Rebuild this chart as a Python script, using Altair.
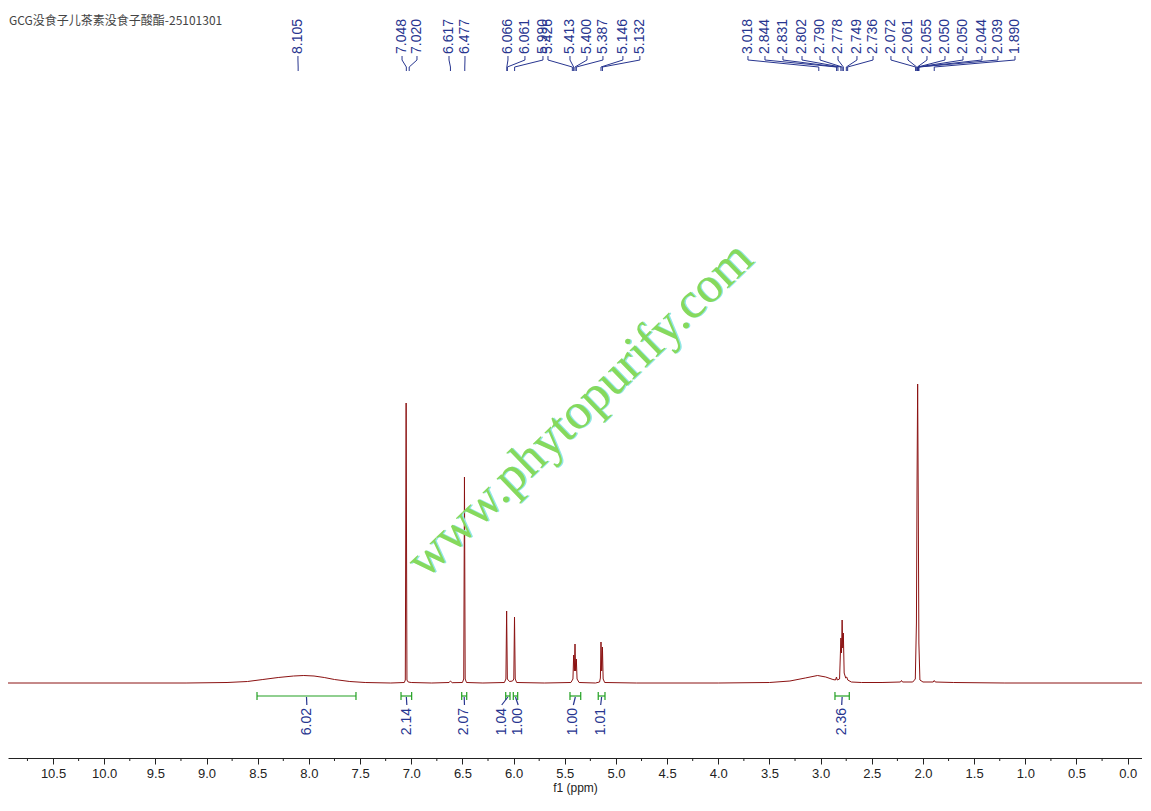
import altair as alt
import pandas as pd

title_text = "GCG没食子儿茶素没食子酸酯-25101301"

# ---- spectrum (ppm, intensity relative to baseline) ----
spec_ppm = [10.94, 9.20, 8.80, 8.60, 8.45, 8.30, 8.15, 8.05, 7.95, 7.85, 7.75, 7.60, 7.45, 7.20,
            7.068, 7.058, 7.050, 7.042, 7.030, 7.00, 6.80, 6.63, 6.617, 6.60, 6.50, 6.487, 6.480, 6.473,
            6.46, 6.30, 6.09, 6.075, 6.068, 6.061, 6.040, 6.010, 5.998, 5.991, 5.984, 5.97, 5.70,
            5.44, 5.420, 5.413, 5.406, 5.400, 5.394, 5.387, 5.380, 5.36, 5.20, 5.160, 5.152, 5.146,
            5.139, 5.132, 5.125, 5.11, 4.80, 4.00, 3.50, 3.30, 3.15, 3.03, 2.95, 2.88, 2.855, 2.845,
            2.838, 2.815, 2.802, 2.796, 2.790, 2.784, 2.778, 2.770, 2.755, 2.745, 2.735, 2.70, 2.60,
            2.40, 2.22, 2.21, 2.20, 2.10, 2.075, 2.064, 2.058, 2.052, 2.046, 2.040, 2.030, 2.00, 1.90,
            1.89, 1.88, 1.70, 1.20, -0.14]
spec_int = [0, 0, 0.5, 1.5, 3.5, 5.5, 7, 7.5, 7, 5.5, 3.5, 1.5, 0.5, 0,
            0.5, 3, 280, 3, 1, 0.5, 0, 0.5, 2, 0.3, 0.5, 4, 206, 4,
            0.5, 0, 0.5, 4, 72, 4, 1.5, 2, 4, 66, 4, 0.5, 0,
            0.5, 4, 28, 12, 39, 12, 24, 4, 0.5, 0, 1, 5, 41,
            12, 36, 4, 0.5, 0, 0, 0.5, 2, 5, 7.5, 6, 3.5, 3, 6,
            3, 4, 45, 30, 63, 35, 50, 10, 5, 6, 3, 1, 0.5,
            0.5, 1, 2.5, 1, 1, 4, 60, 200, 299, 180, 40, 3, 1, 1,
            2.5, 1, 0.5, 0, 0]

# ---- peak labels ----
peak_labels = ["8.105", "7.048", "7.020", "6.617", "6.477", "6.066", "6.061", "5.990", "5.426",
               "5.413", "5.400", "5.387", "5.146", "5.132", "3.018", "2.844", "2.831", "2.802",
               "2.790", "2.778", "2.749", "2.736", "2.072", "2.061", "2.055", "2.050", "2.050",
               "2.044", "2.039", "1.890"]
# where each label is drawn (ppm units, spread out as in the picture)
peak_label_pos = [8.107, 7.090, 6.944, 6.631, 6.475, 6.055, 5.889, 5.713, 5.664,
                  5.449, 5.283, 5.127, 4.932, 4.766, 3.710, 3.544, 3.368, 3.182,
                  3.006, 2.830, 2.645, 2.488, 2.313, 2.147, 1.961, 1.785, 1.609,
                  1.424, 1.268, 1.101]

# ---- integrals ----
int_start = [8.507, 7.100, 6.507, 6.077, 6.003, 5.449, 5.173, 2.860]
int_end = [7.540, 6.996, 6.458, 6.035, 5.960, 5.344, 5.107, 2.720]
int_values = ["6.02", "2.14", "2.07", "1.04", "1.00", "1.00", "1.01", "2.36"]
int_label_pos = [8.020, 7.043, 6.480, 6.116, 5.955, 5.416, 5.149, 2.794]

major_ticks = [i * 0.5 for i in range(22)]
minor_ticks = [0.25 + i * 0.5 for i in range(22)]

watermark = "www.phytopurify.com"

# ---------------- tables ----------------
spec_df = pd.DataFrame({"x": spec_ppm, "y": spec_int})

conn_rows = []
for i, (t, lp) in enumerate(zip(peak_labels, peak_label_pos)):
    p = float(t)
    for k, (xx, yy) in enumerate([(lp, 627), (lp, 623), (p, 616), (p, 612)]):
        conn_rows.append({"id": i, "k": k, "x": xx, "y": yy})
conn_df = pd.DataFrame(conn_rows)
lab_df = pd.DataFrame({"x": peak_label_pos, "t": peak_labels, "y": [629] * len(peak_labels)})

n = len(int_values)
int_df = pd.DataFrame({
    "s": int_start, "e": int_end,
    "c": [(a + b) / 2 for a, b in zip(int_start, int_end)],
    "lp": int_label_pos, "v": int_values,
    "yb": [-13] * n, "yc1": [-9] * n, "yc2": [-17] * n,
    "yt1": [-14] * n, "yt2": [-22] * n, "ytx": [-25] * n,
})
minor_df = pd.DataFrame({"x": minor_ticks, "y1": [-75] * len(minor_ticks), "y2": [-78] * len(minor_ticks)})
wm_df = pd.DataFrame({"x": [5.35], "y": [273], "t": [watermark]})

# ---------------- scales ----------------
xs = alt.Scale(domain=[-0.14, 10.94], reverse=True, nice=False, zero=False)
ys = alt.Scale(domain=[-75, 675], nice=False, zero=False)

BLUE = "#27358f"
GREEN = "#22a022"
RED = "#8b1212"
FONT = "Liberation Sans"

major_axis = alt.Axis(values=major_ticks, format=".1f", orient="bottom", grid=False,
                      tickSize=6, tickColor="#222", domainColor="#222", labelColor="#222",
                      labelFont=FONT, labelFontSize=13, labelPadding=3, labelFlush=False,
                      title="f1 (ppm)", titleFont=FONT, titleFontSize=12,
                      titleFontWeight="normal", titleColor="#222", titlePadding=2)


def X(field):
    return alt.X(field, type="quantitative", scale=xs, axis=major_axis)


def Y(field):
    return alt.Y(field, type="quantitative", scale=ys, axis=None)


spectrum = alt.Chart(spec_df).mark_line(color=RED, strokeWidth=1, interpolate="linear").encode(
    x=X("x"), y=Y("y"))

minor = alt.Chart(minor_df).mark_rule(color="#222", strokeWidth=1).encode(
    x=X("x"), y=Y("y1"), y2="y2")

connectors = alt.Chart(conn_df).mark_line(color=BLUE, strokeWidth=1).encode(
    x=X("x"), y=Y("y"), detail="id:N", order="k:Q")

labels = alt.Chart(lab_df).mark_text(angle=270, align="left", baseline="middle",
                                     font=FONT, fontSize=14, color=BLUE).encode(
    x=X("x"), y=Y("y"), text="t:N")

int_bar = alt.Chart(int_df).mark_rule(color=GREEN, strokeWidth=1.2).encode(
    x=X("s"), x2="e", y=Y("yb"))
cap_s = alt.Chart(int_df).mark_rule(color=GREEN, strokeWidth=1.2).encode(
    x=X("s"), y=Y("yc1"), y2="yc2")
cap_e = alt.Chart(int_df).mark_rule(color=GREEN, strokeWidth=1.2).encode(
    x=X("e"), y=Y("yc1"), y2="yc2")
int_tick = alt.Chart(int_df).mark_rule(color=BLUE, strokeWidth=1.2).encode(
    x=X("c"), x2="lp", y=Y("yt1"), y2="yt2")
int_text = alt.Chart(int_df).mark_text(angle=270, align="right", baseline="middle",
                                       font=FONT, fontSize=14, color=BLUE).encode(
    x=X("lp"), y=Y("ytx"), text="v:N")

wm_shadow = alt.Chart(wm_df).mark_text(angle=316, font="Liberation Serif", fontSize=51,
                                       color="#8fe6e6", dx=1, dy=1).encode(
    x=X("x"), y=Y("y"), text="t:N")
wm = alt.Chart(wm_df).mark_text(angle=316, font="Liberation Serif", fontSize=51,
                                color="#86d95c").encode(
    x=X("x"), y=Y("y"), text="t:N")

chart = alt.layer(
    spectrum, minor, wm_shadow, wm, connectors, labels,
    int_bar, cap_s, cap_e, int_tick, int_text,
).properties(
    width=1134, height=750,
    autosize=alt.AutoSizeParams(type="none"),
    padding={"left": 0, "top": 0, "right": 0, "bottom": 45},
    title=alt.TitleParams(title_text, anchor="start", orient="top", fontSize=12,
                          font="Noto Sans CJK SC", fontWeight="normal", color="#444",
                          offset=-20, dx=3),
).configure_view(stroke=None)

chart.save("out.html", embed_options={"renderer": "svg", "actions": False})
